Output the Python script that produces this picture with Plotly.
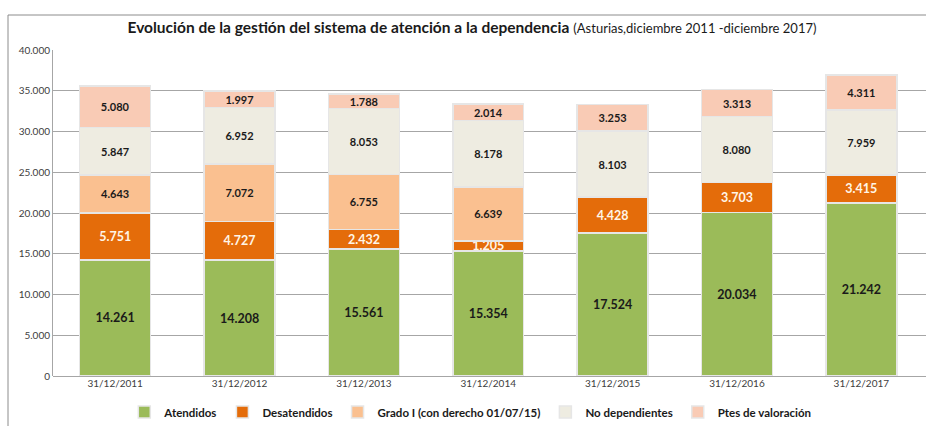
import plotly.graph_objects as go

categories = ["31/12/2011", "31/12/2012", "31/12/2013", "31/12/2014", "31/12/2015", "31/12/2016", "31/12/2017"]
atendidos = [14261, 14208, 15561, 15354, 17524, 20034, 21242]
desatendidos = [5751, 4727, 2432, 1205, 4428, 3703, 3415]
grado_i = [4643, 7072, 6755, 6639, None, None, None]
no_dependientes = [5847, 6952, 8053, 8178, 8103, 8080, 7959]
ptes_valoracion = [5080, 1997, 1788, 2014, 3253, 3313, 4311]
y_ticks = [0, 5000, 10000, 15000, 20000, 25000, 30000, 35000, 40000]

series = [
    ("Atendidos", atendidos, "#9BBB59", "#1a1a1a", 12.5),
    ("Desatendidos", desatendidos, "#E46C0A", "#FFF5E6", 12.5),
    ("Grado I (con derecho 01/07/15)", grado_i, "#FAC090", "#1a1a1a", 11),
    ("No dependientes", no_dependientes, "#EEECE1", "#1a1a1a", 11),
    ("Ptes de valoración", ptes_valoracion, "#F9CBB5", "#1a1a1a", 11),
]

FONT = "Lato, 'Open Sans', sans-serif"

fig = go.Figure()
for name, vals, color, tcolor, tsize in series:
    fig.add_trace(go.Bar(
        name="<b>" + name + "</b>", x=categories, y=vals,
        marker=dict(color=color, line=dict(color="#E6E6E6", width=1.5)),
        texttemplate="<b>%{y:,d}</b>", textposition="inside",
        insidetextanchor="middle", textangle=0, constraintext="none",
        textfont=dict(color=tcolor, size=tsize, family=FONT),
        hoverinfo="skip",
    ))

L, R, T, B = 53, 0, 50, 50
W, H = 926, 426
pw = W - L - R
ph = H - T - B

fig.update_layout(
    width=W, height=H, barmode="stack", bargap=0.43,
    separators=",.",
    margin=dict(l=L, r=R, t=T, b=B, autoexpand=False),
    paper_bgcolor="white", plot_bgcolor="white",
    font=dict(family=FONT, color="#333333"),
    title=dict(
        text="<b>Evolución de la gestión del sistema de atención a la dependencia</b> "
             "<span style='font-size:13px'>(Asturias,diciembre 2011 -diciembre 2017)</span>",
        x=472 / W, xanchor="center", y=1 - 28 / H, yanchor="middle",
        font=dict(size=15.5, color="#1a1a1a", family=FONT),
    ),
    xaxis=dict(range=[-0.5, 6.52], showgrid=False, showline=False, ticks="",
               tickfont=dict(size=10, color="#404040", family=FONT)),
    yaxis=dict(range=[0, 40000], tickvals=y_ticks, tickformat=",d",
               showgrid=True, gridcolor="#A6A6A6", gridwidth=1,
               showline=True, linecolor="#A6A6A6", linewidth=1,
               zeroline=True, zerolinecolor="#A6A6A6", zerolinewidth=1,
               ticks="", ticklen=0,
               tickfont=dict(size=10, color="#404040", family=FONT)),
    legend=dict(orientation="h", x=0.478, xanchor="center",
                y=(376 - 412) / ph, yanchor="middle",
                font=dict(size=11.5, color="#1a1a1a", family=FONT),
                traceorder="normal", itemwidth=30),
    showlegend=True,
)

# outer chart frame
fig.add_shape(type="rect", xref="paper", yref="paper",
              x0=(8 - L) / pw, x1=(940 - L) / pw,
              y0=(376 - 440) / ph, y1=(376 - 15) / ph,
              line=dict(color="#8C8C8C", width=1), fillcolor="rgba(0,0,0,0)",
              layer="below")

fig.write_html(
    "out.html",
    config={"displayModeBar": False},
    post_script="document.body.style.margin='0';document.body.style.overflow='hidden';",
)
